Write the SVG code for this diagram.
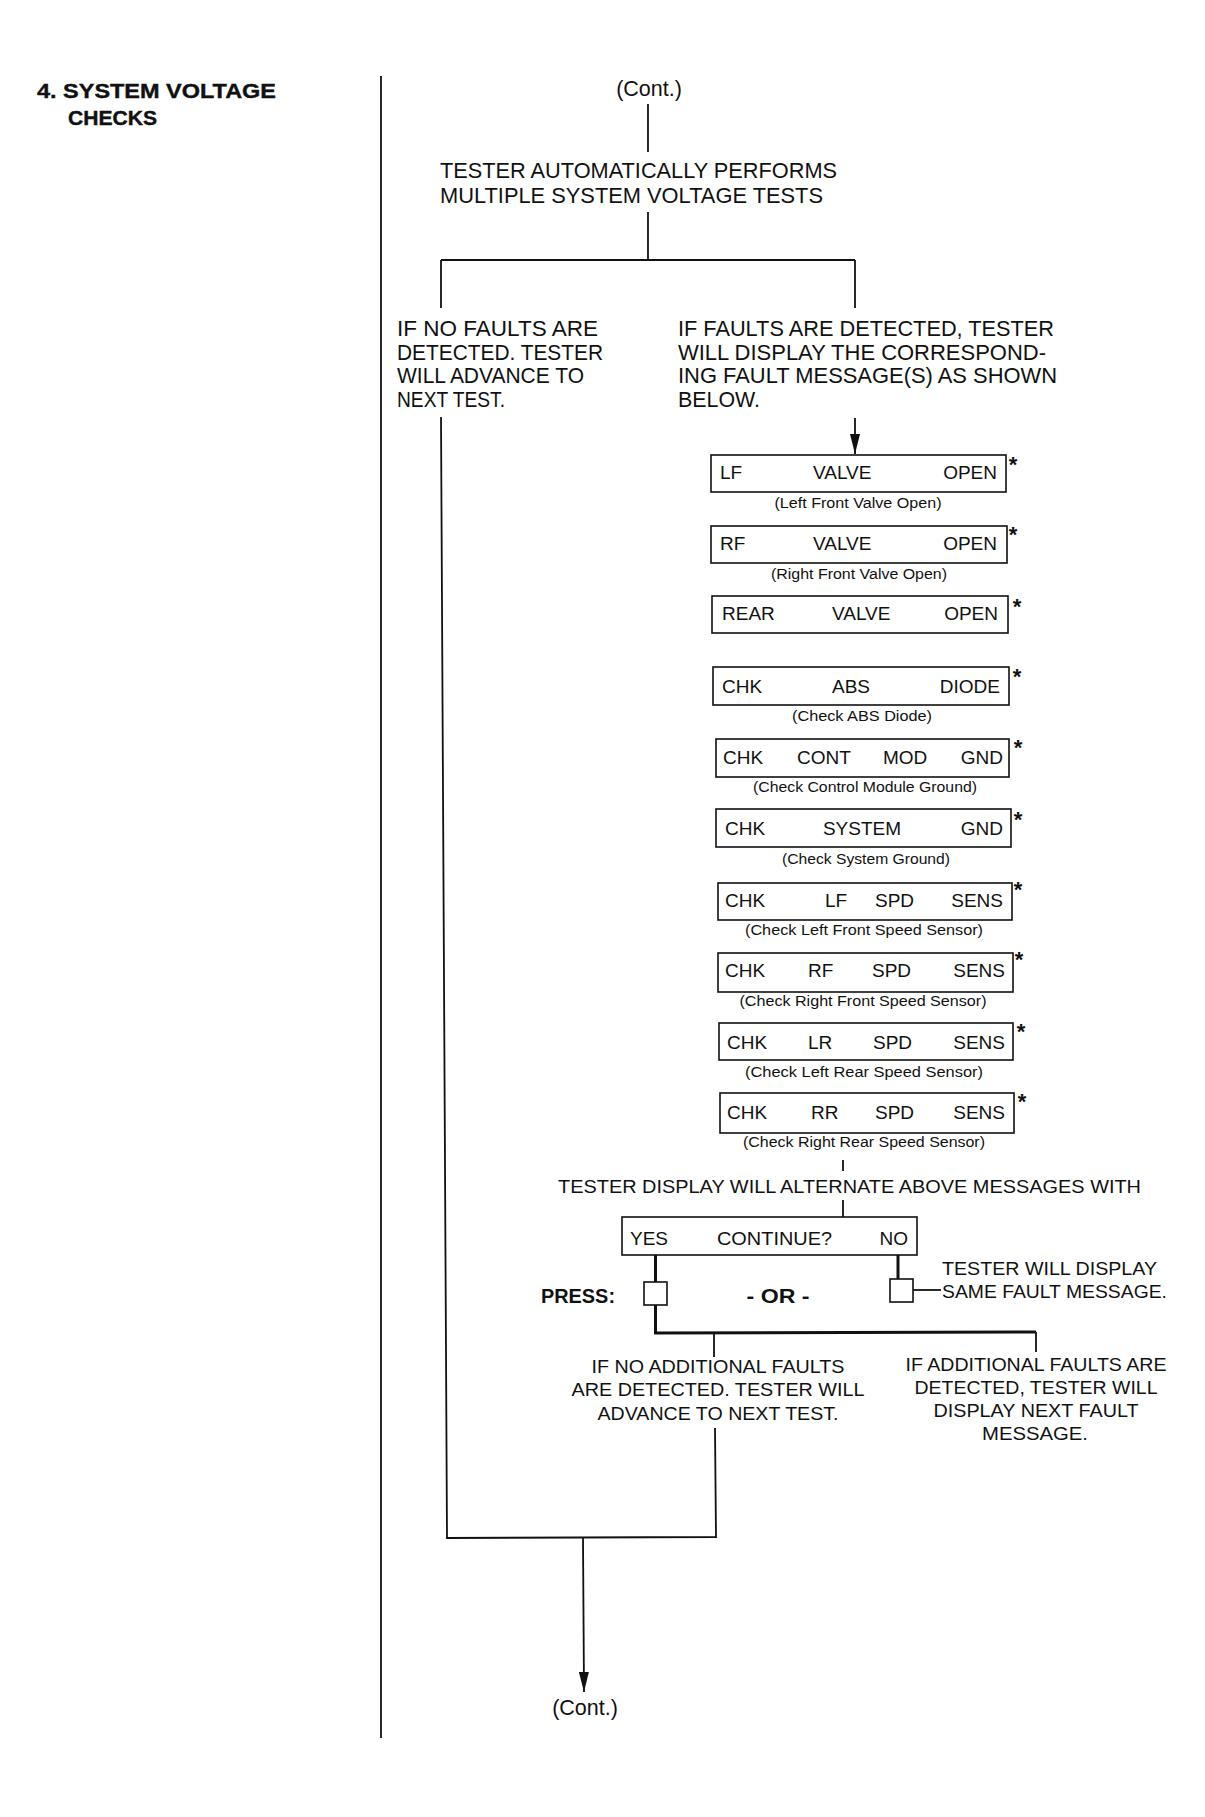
<svg xmlns="http://www.w3.org/2000/svg" width="1205" height="1817" viewBox="0 0 1205 1817">
<defs>
<style>
.t{font-family:"Liberation Sans",Arial,Helvetica,sans-serif;fill:#111}
.m{font-size:21.5px}
.bx{font-size:19px}
.cap{font-size:15.5px}
.lo{font-size:19px}
.b{font-weight:bold}
.star{font-family:"Liberation Sans",Arial,sans-serif;font-weight:bold;font-size:22px;fill:#111;text-anchor:middle}
.box{fill:#fff;stroke:#111;stroke-width:1.6}
.ln{stroke:#111;stroke-width:1.8;fill:none}
.thk{stroke-width:3}
.mid{text-anchor:middle}
.end{text-anchor:end}
</style>
<marker id="arr" markerUnits="userSpaceOnUse" markerWidth="20" markerHeight="10" viewBox="0 0 20 10" refX="20" refY="5" orient="auto">
<path d="M0,0 L20,5 L0,10 z" fill="#111"/>
</marker>
</defs>
<rect width="1205" height="1817" fill="#fff"/>

<g id="title">
<text class="t b" x="37" y="98" font-size="20.5" stroke="#111" stroke-width="0.4" textLength="239" lengthAdjust="spacingAndGlyphs">4. SYSTEM VOLTAGE</text>
<text class="t b" x="68" y="125" font-size="20.5" stroke="#111" stroke-width="0.4" textLength="89" lengthAdjust="spacingAndGlyphs">CHECKS</text>
</g>

<g id="connectors">
<line class="ln" x1="381" y1="76" x2="381" y2="1738" stroke-width="2"/>
<line class="ln" x1="648" y1="104" x2="648" y2="152" stroke-width="1.5"/>
<line class="ln" x1="648" y1="212" x2="648" y2="260"/>
<line class="ln" x1="441" y1="260" x2="855" y2="260"/>
<line class="ln" x1="441" y1="260" x2="441" y2="308" stroke-width="1.4"/>
<line class="ln" x1="855" y1="260" x2="855" y2="308" stroke-width="1.4"/>
<line class="ln" x1="855" y1="418" x2="855" y2="454" marker-end="url(#arr)"/>
<path class="ln" d="M441,417 L447,1538 L716,1537 L715,1428" stroke-width="2.2"/>
<line class="ln" x1="583" y1="1538" x2="584" y2="1692" stroke-width="2.5" marker-end="url(#arr)"/>
<line class="ln" x1="843" y1="1160" x2="843" y2="1171" stroke-width="1.8"/>
<line class="ln" x1="843" y1="1200" x2="843" y2="1217" stroke-width="2.2"/>
<line class="ln thk" x1="655.5" y1="1255" x2="655.5" y2="1282"/>
<line class="ln thk" x1="898" y1="1255" x2="898" y2="1279"/>
<line class="ln" x1="913" y1="1290" x2="941" y2="1290" stroke-width="2"/>
<path class="ln thk" d="M655.5,1305 L655.5,1333 L1036,1332"/>
<line class="ln" x1="714" y1="1333" x2="714" y2="1357" stroke-width="1.5"/>
<line class="ln" x1="1036" y1="1332" x2="1036" y2="1352" stroke-width="1.5"/>
</g>

<g id="cont-top">
<text class="t m mid" x="649" y="96">(Cont.)</text>
</g>

<g id="auto-tests">
<text class="t m" x="440" y="178" textLength="397" lengthAdjust="spacingAndGlyphs">TESTER AUTOMATICALLY PERFORMS</text>
<text class="t m" x="440" y="203" textLength="383" lengthAdjust="spacingAndGlyphs">MULTIPLE SYSTEM VOLTAGE TESTS</text>
</g>

<g id="no-faults">
<text class="t m" x="397" y="336" textLength="201" lengthAdjust="spacingAndGlyphs">IF NO FAULTS ARE</text>
<text class="t m" x="397" y="360" textLength="206" lengthAdjust="spacingAndGlyphs">DETECTED. TESTER</text>
<text class="t m" x="397" y="383" textLength="187" lengthAdjust="spacingAndGlyphs">WILL ADVANCE TO</text>
<text class="t m" x="397" y="407" textLength="108" lengthAdjust="spacingAndGlyphs">NEXT TEST.</text>
</g>

<g id="faults">
<text class="t m" x="678" y="336" textLength="376" lengthAdjust="spacingAndGlyphs">IF FAULTS ARE DETECTED, TESTER</text>
<text class="t m" x="678" y="360" textLength="368" lengthAdjust="spacingAndGlyphs">WILL DISPLAY THE CORRESPOND-</text>
<text class="t m" x="678" y="383" textLength="379" lengthAdjust="spacingAndGlyphs">ING FAULT MESSAGE(S) AS SHOWN</text>
<text class="t m" x="678" y="407" textLength="82" lengthAdjust="spacingAndGlyphs">BELOW.</text>
</g>

<g id="msg-lf-valve">
<rect class="box" x="711" y="455" width="295" height="37"/>
<text class="t bx" x="720" y="479">LF</text>
<text class="t bx" x="813" y="479">VALVE</text>
<text class="t bx end" x="997" y="479">OPEN</text>
<text class="star" x="1013" y="472">*</text>
<text class="t cap mid" x="858" y="508" textLength="167" lengthAdjust="spacingAndGlyphs">(Left Front Valve Open)</text>
</g>

<g id="msg-rf-valve">
<rect class="box" x="711" y="526" width="296" height="37"/>
<text class="t bx" x="720" y="550">RF</text>
<text class="t bx" x="813" y="550">VALVE</text>
<text class="t bx end" x="997" y="550">OPEN</text>
<text class="star" x="1013" y="542">*</text>
<text class="t cap mid" x="859" y="579" textLength="176" lengthAdjust="spacingAndGlyphs">(Right Front Valve Open)</text>
</g>

<g id="msg-rear-valve">
<rect class="box" x="712" y="596" width="296" height="37"/>
<text class="t bx" x="722" y="620">REAR</text>
<text class="t bx" x="832" y="620">VALVE</text>
<text class="t bx end" x="998" y="620">OPEN</text>
<text class="star" x="1017" y="614">*</text>
</g>

<g id="msg-abs-diode">
<rect class="box" x="713" y="667" width="296" height="38"/>
<text class="t bx" x="722" y="693">CHK</text>
<text class="t bx" x="832" y="693">ABS</text>
<text class="t bx end" x="1000" y="693">DIODE</text>
<text class="star" x="1017" y="684">*</text>
<text class="t cap mid" x="862" y="721" textLength="140" lengthAdjust="spacingAndGlyphs">(Check ABS Diode)</text>
</g>

<g id="msg-cont-mod-gnd">
<rect class="box" x="716" y="739" width="293" height="38"/>
<text class="t bx" x="723" y="764">CHK</text>
<text class="t bx" x="797" y="764">CONT</text>
<text class="t bx" x="883" y="764">MOD</text>
<text class="t bx end" x="1003" y="764">GND</text>
<text class="star" x="1018" y="755">*</text>
<text class="t cap mid" x="865" y="792" textLength="224" lengthAdjust="spacingAndGlyphs">(Check Control Module Ground)</text>
</g>

<g id="msg-system-gnd">
<rect class="box" x="716" y="809" width="295" height="38"/>
<text class="t bx" x="725" y="835">CHK</text>
<text class="t bx mid" x="862" y="835">SYSTEM</text>
<text class="t bx end" x="1003" y="835">GND</text>
<text class="star" x="1018" y="827">*</text>
<text class="t cap mid" x="866" y="864" textLength="168" lengthAdjust="spacingAndGlyphs">(Check System Ground)</text>
</g>

<g id="msg-lf-spd">
<rect class="box" x="718" y="883" width="294" height="37"/>
<text class="t bx" x="725" y="907">CHK</text>
<text class="t bx" x="825" y="907">LF</text>
<text class="t bx" x="875" y="907">SPD</text>
<text class="t bx end" x="1003" y="907">SENS</text>
<text class="star" x="1018" y="897">*</text>
<text class="t cap mid" x="864" y="935" textLength="238" lengthAdjust="spacingAndGlyphs">(Check Left Front Speed Sensor)</text>
</g>

<g id="msg-rf-spd">
<rect class="box" x="718" y="953" width="295" height="39"/>
<text class="t bx" x="725" y="977">CHK</text>
<text class="t bx" x="808" y="977">RF</text>
<text class="t bx" x="872" y="977">SPD</text>
<text class="t bx end" x="1005" y="977">SENS</text>
<text class="star" x="1019" y="967">*</text>
<text class="t cap mid" x="863" y="1006" textLength="247" lengthAdjust="spacingAndGlyphs">(Check Right Front Speed Sensor)</text>
</g>

<g id="msg-lr-spd">
<rect class="box" x="719" y="1023" width="294" height="37"/>
<text class="t bx" x="727" y="1049">CHK</text>
<text class="t bx" x="808" y="1049">LR</text>
<text class="t bx" x="873" y="1049">SPD</text>
<text class="t bx end" x="1005" y="1049">SENS</text>
<text class="star" x="1021" y="1039">*</text>
<text class="t cap mid" x="864" y="1077" textLength="238" lengthAdjust="spacingAndGlyphs">(Check Left Rear Speed Sensor)</text>
</g>

<g id="msg-rr-spd">
<rect class="box" x="720" y="1093" width="294" height="40"/>
<text class="t bx" x="727" y="1119">CHK</text>
<text class="t bx" x="811" y="1119">RR</text>
<text class="t bx" x="875" y="1119">SPD</text>
<text class="t bx end" x="1005" y="1119">SENS</text>
<text class="star" x="1022" y="1109">*</text>
<text class="t cap mid" x="864" y="1147" textLength="242" lengthAdjust="spacingAndGlyphs">(Check Right Rear Speed Sensor)</text>
</g>

<g id="alternate">
<text class="t lo" x="558" y="1193" textLength="583" lengthAdjust="spacingAndGlyphs">TESTER DISPLAY WILL ALTERNATE ABOVE MESSAGES WITH</text>
</g>

<g id="continue-box">
<rect class="box" x="622" y="1217" width="295" height="38"/>
<text class="t bx" x="630" y="1245">YES</text>
<text class="t bx" x="717" y="1245" textLength="115" lengthAdjust="spacingAndGlyphs">CONTINUE?</text>
<text class="t bx end" x="908" y="1245">NO</text>
</g>

<g id="press">
<text class="t b" x="541" y="1303" font-size="20" textLength="74" lengthAdjust="spacingAndGlyphs">PRESS:</text>
<rect class="box" x="644" y="1282" width="23" height="23"/>
<text class="t b mid" x="778" y="1303" font-size="20" textLength="63" lengthAdjust="spacingAndGlyphs">- OR -</text>
<rect class="box" x="890" y="1279" width="23" height="23"/>
</g>

<g id="same-fault">
<text class="t lo" x="942" y="1275" textLength="215" lengthAdjust="spacingAndGlyphs">TESTER WILL DISPLAY</text>
<text class="t lo" x="942" y="1298" textLength="225" lengthAdjust="spacingAndGlyphs">SAME FAULT MESSAGE.</text>
</g>

<g id="no-additional">
<text class="t lo mid" x="718" y="1373" textLength="253" lengthAdjust="spacingAndGlyphs">IF NO ADDITIONAL FAULTS</text>
<text class="t lo mid" x="718" y="1396" textLength="293" lengthAdjust="spacingAndGlyphs">ARE DETECTED. TESTER WILL</text>
<text class="t lo mid" x="718" y="1420" textLength="241" lengthAdjust="spacingAndGlyphs">ADVANCE TO NEXT TEST.</text>
</g>

<g id="additional">
<text class="t lo mid" x="1036" y="1371" textLength="261" lengthAdjust="spacingAndGlyphs">IF ADDITIONAL FAULTS ARE</text>
<text class="t lo mid" x="1036" y="1394" textLength="243" lengthAdjust="spacingAndGlyphs">DETECTED, TESTER WILL</text>
<text class="t lo mid" x="1036" y="1417" textLength="205" lengthAdjust="spacingAndGlyphs">DISPLAY NEXT FAULT</text>
<text class="t lo mid" x="1035" y="1440" textLength="106" lengthAdjust="spacingAndGlyphs">MESSAGE.</text>
</g>

<g id="cont-bottom">
<text class="t m mid" x="585" y="1715">(Cont.)</text>
</g>
</svg>
